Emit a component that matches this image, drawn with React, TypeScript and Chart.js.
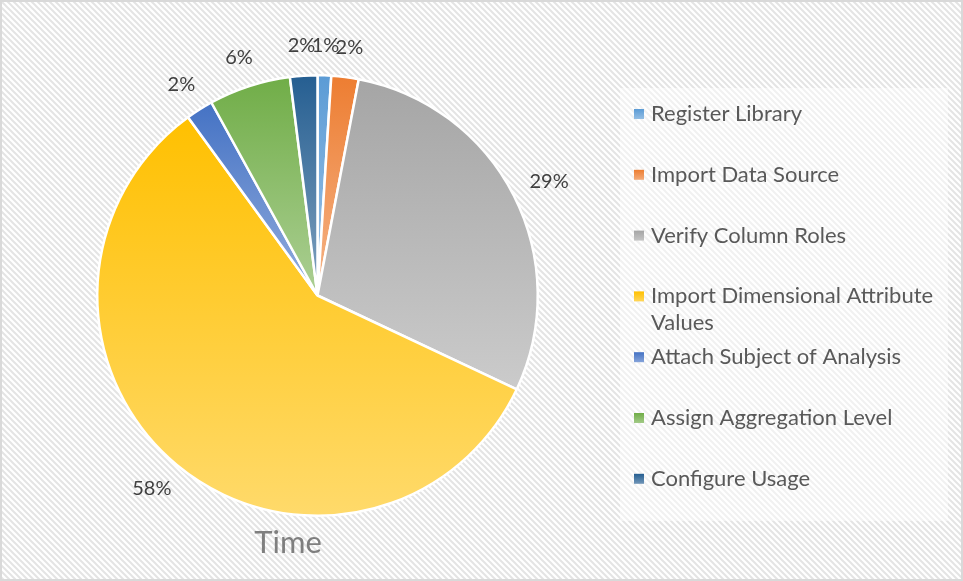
import React, { useEffect, useRef } from "react";
import { Chart, registerables } from "chart.js";

Chart.register(...registerables);

const categories = [
  "Register Library",
  "Import Data Source",
  "Verify Column Roles",
  "Import Dimensional Attribute Values",
  "Attach Subject of Analysis",
  "Assign Aggregation Level",
  "Configure Usage",
];
const timeShare = [1, 2, 29, 58, 2, 6, 2];
const sliceColors = ["#5B9BD5", "#ED7D31", "#A5A5A5", "#FFC000", "#4472C4", "#70AD47", "#255E91"];
const chartTitle = "Time";

const FONT = "Lato, 'Open Sans', sans-serif";

function tint(hex: string, amt: number) {
  const n = parseInt(hex.slice(1), 16);
  const r = (n >> 16) & 255, g = (n >> 8) & 255, b = n & 255;
  const m = (c: number) => Math.round(c + (255 - c) * amt);
  return `rgb(${m(r)},${m(g)},${m(b)})`;
}

function makePattern(ctx: CanvasRenderingContext2D, bg: string, line: string) {
  const p = document.createElement("canvas");
  p.width = 6;
  p.height = 6;
  const c = p.getContext("2d")!;
  c.fillStyle = bg;
  c.fillRect(0, 0, 6, 6);
  c.strokeStyle = line;
  c.lineWidth = 2;
  c.beginPath();
  c.moveTo(-1, -1);
  c.lineTo(7, 7);
  c.moveTo(-1, 5);
  c.lineTo(1, 7);
  c.moveTo(5, -1);
  c.lineTo(7, 1);
  c.stroke();
  return ctx.createPattern(p, "repeat")!;
}

function sliceGradient(chart: any, index: number) {
  const ca = chart.chartArea;
  const base = sliceColors[index];
  if (!ca) return base;
  const cx = (ca.left + ca.right) / 2;
  const cy = (ca.top + ca.bottom) / 2;
  const r = Math.min(ca.width, ca.height) / 2;
  const data = chart.data.datasets[0].data as number[];
  const total = data.reduce((a, b) => a + b, 0);
  let acc = 0;
  for (let i = 0; i < index; i++) acc += data[i];
  const a0 = -Math.PI / 2 + (acc / total) * Math.PI * 2;
  const a1 = a0 + (data[index] / total) * Math.PI * 2;
  let minY = cy, maxY = cy;
  const ys = [cy + Math.sin(a0) * r, cy + Math.sin(a1) * r];
  for (const ext of [-Math.PI / 2, Math.PI / 2, (3 * Math.PI) / 2]) {
    if (ext >= a0 && ext <= a1) ys.push(cy + Math.sin(ext) * r);
  }
  for (const y of ys) {
    minY = Math.min(minY, y);
    maxY = Math.max(maxY, y);
  }
  const g = chart.ctx.createLinearGradient(0, minY, 0, maxY + 0.01);
  g.addColorStop(0, base);
  g.addColorStop(1, tint(base, 0.42));
  return g;
}

const backgroundPlugin = {
  id: "bgPattern",
  beforeDraw(chart: any) {
    const { ctx, width, height } = chart;
    ctx.save();
    ctx.fillStyle = makePattern(ctx, "#ffffff", "#e4e4e4");
    ctx.fillRect(0, 0, width, height);
    ctx.strokeStyle = "#d9d9d9";
    ctx.lineWidth = 2;
    ctx.strokeRect(1, 1, width - 2, height - 2);
    ctx.restore();
  },
};

const labelPlugin = {
  id: "outsideLabels",
  afterDatasetsDraw(chart: any) {
    const { ctx } = chart;
    const meta = chart.getDatasetMeta(0);
    const data = chart.data.datasets[0].data as number[];
    const total = data.reduce((a, b) => a + b, 0);
    ctx.save();
    ctx.font = `20px ${FONT}`;
    ctx.fillStyle = "#404040";
    ctx.textAlign = "center";
    ctx.textBaseline = "middle";
    meta.data.forEach((arc: any, i: number) => {
      const mid = (arc.startAngle + arc.endAngle) / 2;
      const rr = arc.outerRadius + 20;
      const txt = Math.round((data[i] / total) * 100) + "%";
      const w = ctx.measureText(txt).width;
      const h = 20;
      const x = arc.x + Math.cos(mid) * rr + (Math.cos(mid) * w) / 2;
      const y = arc.y + Math.sin(mid) * rr + (Math.sin(mid) * h) / 2;
      ctx.fillText(txt, x, y);
    });
    ctx.restore();
  },
};

function wrapText(ctx: CanvasRenderingContext2D, text: string, maxW: number) {
  const words = text.split(" ");
  const lines: string[] = [];
  let cur = "";
  for (const w of words) {
    const t = cur ? cur + " " + w : w;
    if (ctx.measureText(t).width > maxW && cur) {
      lines.push(cur);
      cur = w;
    } else cur = t;
  }
  if (cur) lines.push(cur);
  return lines;
}

const legendPlugin = {
  id: "sideLegend",
  afterDraw(chart: any) {
    const { ctx } = chart;
    const boxL = 620, boxT = 88, boxR = 948, boxB = 521;
    ctx.save();
    ctx.fillStyle = makePattern(ctx, "#ffffff", "#f1f1f1");
    ctx.fillRect(boxL, boxT, boxR - boxL, boxB - boxT);
    ctx.font = `22px ${FONT}`;
    ctx.textBaseline = "middle";
    ctx.textAlign = "left";
    const labels = chart.data.labels as string[];
    const step = 60.8;
    labels.forEach((lab, i) => {
      const y = 114 + i * step;
      const g = ctx.createLinearGradient(0, y - 5, 0, y + 5);
      g.addColorStop(0, sliceColors[i]);
      g.addColorStop(1, tint(sliceColors[i], 0.35));
      ctx.fillStyle = g;
      ctx.fillRect(634, y - 5, 10, 10);
      ctx.fillStyle = "#595959";
      const lines = wrapText(ctx, lab, 292);
      lines.forEach((ln, j) => ctx.fillText(ln, 651, y + j * 27));
    });
    ctx.font = `31px ${FONT}`;
    ctx.fillStyle = "#7f7f7f";
    ctx.textAlign = "center";
    ctx.fillText(chartTitle, 288, 543);
    ctx.restore();
  },
};

export default function App() {
  const ref = useRef<HTMLCanvasElement>(null);
  useEffect(() => {
    document.body.style.margin = "0";
    const chart = new Chart(ref.current!, {
      type: "pie",
      data: {
        labels: categories,
        datasets: [
          {
            data: timeShare,
            backgroundColor: (c: any) => sliceGradient(c.chart, c.dataIndex),
            borderColor: "#ffffff",
            borderWidth: 2.5,
          },
        ],
      },
      options: {
        animation: false,
        responsive: false,
        maintainAspectRatio: false,
        layout: { padding: { left: 96, top: 74, right: 424, bottom: 64 } },
        plugins: {
          legend: { display: false },
          title: { display: false },
          tooltip: { enabled: false },
        },
      },
      plugins: [backgroundPlugin, labelPlugin, legendPlugin],
    });
    return () => chart.destroy();
  }, []);
  return (
    <div style={{ width: 963, height: 581 }}>
      <canvas ref={ref} width={963} height={581} style={{ display: "block" }} />
    </div>
  );
}
